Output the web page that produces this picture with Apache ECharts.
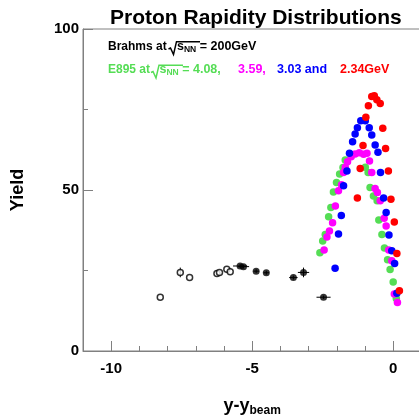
<!DOCTYPE html>
<html><head><meta charset="utf-8">
<script src="https://cdn.jsdelivr.net/npm/echarts@6/dist/echarts.min.js"></script>
<style>html,body{margin:0;padding:0;background:#fff}#c{width:419px;height:417px}</style>
</head><body><div id="c"></div>
<script>
// E895 (colored) data: y - y_beam, yield
const greenX = [-2.60,-2.50,-2.41,-2.29,-2.21,-2.12,-2.01,-1.90,-1.78,-1.70,-0.99,-0.89,-0.82,-0.70,-0.57,-0.51,-0.40,-0.31,-0.20,-0.11,0.00,0.11];
const greenY = [30.5,34.2,36.2,41.7,44.6,49.4,52.3,55.0,57.0,59.3,57.1,55.4,50.8,48.1,46.7,40.7,36.2,32.0,28.3,25.3,21.4,16.3];
const magentaX = [-2.45,-2.35,-2.26,-2.15,-2.05,-1.94,-1.83,-1.76,-1.70,-1.62,-1.49,-1.35,-1.20,-1.05,-0.93,-0.84,-0.76,-0.64,-0.56,-0.46,-0.32,-0.25,-0.16,-0.05,0.04,0.15];
const magentaY = [31.4,35.4,37.3,39.8,45.0,49.8,51.6,55.4,57.1,58.8,60.3,61.2,61.6,61.1,61.4,59.0,55.4,50.5,49.2,46.7,41.2,38.8,31.4,28.0,17.7,15.1];
const blueX = [-2.06,-1.94,-1.84,-1.76,-1.64,-1.55,-1.44,-1.35,-1.27,-1.15,-0.99,-0.85,-0.76,-0.64,-0.54,-0.45,-0.34,-0.25,-0.15,-0.05,0.05,0.13];
const blueY = [25.7,36.3,42.1,51.3,55.9,61.4,65.0,67.4,69.3,71.5,71.5,69.3,67.1,64.0,61.7,55.4,47.5,43.0,36.0,31.1,27.2,17.9];
const redX = [-1.27,-1.17,-1.07,-0.97,-0.88,-0.76,-0.67,-0.58,-0.46,-0.37,-0.27,-0.17,-0.08,0.04,0.13,0.22];
const redY = [47.5,56.7,63.8,72.6,76.2,79.0,79.3,78.0,76.9,69.2,62.9,55.9,47.1,40.1,30.3,18.7];
// BRAHMS measured (filled) and reflected (open)
const brahmsX = [-5.43,-5.31,-4.86,-4.50,-3.54,-3.18,-2.47];
const brahmsY = [26.4,26.2,24.8,24.3,22.8,24.4,16.7];
const brahmsXerr = [0.25,0.2,0.1,0.1,0.15,0.2,0.25];
const brahmsYerr = [0.6,0.6,0.6,0.6,0.6,1.5,0.5];
const reflX = [-8.26,-7.55,-7.22,-6.25,-6.16,-5.90,-5.78];
const reflY = [16.7,24.4,22.8,24.1,24.4,25.4,24.6];
const reflXerr = [0,0,0,0,0,0,0];
const reflYerr = [0,1.5,0,0,0,0,0];
// axis ticks
const xMajor = [-10,-5,0];
const xMinor = [-11,-9,-8,-7,-6,-4,-3,-2,-1,1];

const zip = (a,b) => a.map((v,i)=>[v,b[i]]);
const zip4 = (a,b,c,d) => a.map((v,i)=>[v,b[i],c[i],d[i]]);
const FONT = 'Liberation Sans, Arial, Helvetica, sans-serif';
const AX = '#808080';
const GREEN = '#55dd55';

function errRender(params, api){
  const x = api.value(0), y = api.value(1), xe = api.value(2), ye = api.value(3);
  const children = [];
  const st = {stroke:'#000', lineWidth:1};
  if (xe > 0){
    const a = api.coord([x-xe,y]), b = api.coord([x+xe,y]);
    children.push({type:'line', shape:{x1:a[0],y1:a[1],x2:b[0],y2:b[1]}, style:st});
  }
  if (ye > 0){
    const a = api.coord([x,y-ye]), b = api.coord([x,y+ye]);
    children.push({type:'line', shape:{x1:a[0],y1:a[1],x2:b[0],y2:b[1]}, style:st});
  }
  return {type:'group', children};
}

const chart = echarts.init(document.getElementById('c'), null, {renderer:'canvas'});
const dot = (name, color, xs, ys) => ({
  name, type:'scatter', data: zip(xs,ys), symbol:'circle', symbolSize:7.5,
  itemStyle:{color, opacity:1}, z:3, silent:true
});
function rich(color, fs){
  return {
    n:{fontFamily:FONT, fontWeight:'bold', fontSize:fs || 12.5, fill:color},
    sub:{fontFamily:FONT, fontWeight:'bold', fontSize:8.5, fill:color, verticalAlign:'bottom', padding:[6,0,0,0]}
  };
}
const radical = (pts, color) => ({type:'polyline', shape:{points:pts}, style:{stroke:color, lineWidth:1.5, fill:null}, z:10});
chart.setOption({
  animation:false,
  backgroundColor:'#fff',
  grid:{left:83, top:29, width:338.4, height:322, show:true, borderColor:AX, borderWidth:1,
        backgroundColor:'transparent', containLabel:false, outerBoundsMode:'none'},
  xAxis:[{
    type:'value', min:-11, max:1, position:'bottom',
    axisLine:{show:true, onZero:false, lineStyle:{color:AX, width:1}},
    axisTick:{show:true, inside:true, length:10, customValues:xMajor, lineStyle:{color:AX}},
    axisLabel:{customValues:xMajor, color:'#000', fontFamily:FONT, fontWeight:'bold', fontSize:15, margin:10},
    splitLine:{show:false},
    name:'{a|y-y}{b|beam}', nameLocation:'middle', nameGap:44,
    nameTextStyle:{rich:{a:{fontFamily:FONT, fontWeight:'bold', fontSize:18, color:'#000'}, b:{fontFamily:FONT, fontWeight:'bold', fontSize:12, color:'#000', verticalAlign:'bottom', padding:[10,0,0,0]}}}
  },{
    type:'value', min:-11, max:1, position:'bottom', gridIndex:0,
    axisLine:{show:false, onZero:false},
    axisTick:{show:true, inside:true, length:5, customValues:xMinor, lineStyle:{color:AX}},
    axisLabel:{show:false}, splitLine:{show:false}
  }],
  yAxis:{
    type:'value', min:0, max:100, interval:50,
    axisLine:{show:true, onZero:false, lineStyle:{color:AX, width:1}},
    axisTick:{show:true, inside:true, length:10, lineStyle:{color:AX}},
    minorTick:{show:true, splitNumber:2, length:5, lineStyle:{color:AX}},
    axisLabel:{color:'#000', fontFamily:FONT, fontWeight:'bold', fontSize:15, margin:4},
    splitLine:{show:false}, minorSplitLine:{show:false},
    name:'Yield', nameLocation:'middle', nameGap:56, nameRotate:90,
    nameTextStyle:{fontFamily:FONT, fontWeight:'bold', fontSize:18, color:'#000'}
  },
  title:{text:'Proton Rapidity Distributions', left:105, top:3,
    textStyle:{fontFamily:FONT, fontWeight:'bold', fontSize:21, color:'#000'}},
  graphic:[
    {type:'text', left:108, top:40.5, style:{text:'{n|Brahms at}', rich:rich('#000', 12)}},
    {type:'text', left:177, top:40, style:{text:'{n|s}{sub|NN}{n| = 200GeV}', rich:rich('#000')}},
    radical([[168.5,49],[170.5,48],[173.5,54.5],[176.5,41.7],[200,41.7]], '#000'),
    {type:'text', left:108, top:64, style:{text:'{n|E895 at}', rich:rich(GREEN, 12)}},
    {type:'text', left:159.5, top:63.5, style:{text:'{n|s}{sub|NN}{n| = 4.08,}', rich:rich(GREEN)}},
    radical([[151,72.5],[153,71.5],[156,78],[159,65.2],[183,65.2]], GREEN),
    {type:'text', left:238, top:63.5, style:{text:'{n|3.59,}', rich:rich('#ff00ff')}},
    {type:'text', left:277, top:63.5, style:{text:'{n|3.03 and}', rich:rich('#0000ff')}},
    {type:'text', left:340, top:63.5, style:{text:'{n|2.34GeV}', rich:rich('#ff0000')}}
  ],
  series:[
    dot('green',GREEN,greenX,greenY),
    dot('magenta','#ff00ff',magentaX,magentaY),
    dot('blue','#0000ff',blueX,blueY),
    dot('red','#ff0000',redX,redY),
    {type:'custom', renderItem:errRender, data:zip4(brahmsX,brahmsY,brahmsXerr,brahmsYerr), z:4, silent:true},
    {type:'custom', renderItem:errRender, data:zip4(reflX,reflY,reflXerr,reflYerr), z:4, silent:true},
    {type:'scatter', data:zip(brahmsX,brahmsY), symbol:'circle', symbolSize:7, itemStyle:{color:'#000'}, z:5, silent:true},
    {type:'scatter', data:zip(reflX,reflY), symbol:'circle', symbolSize:6, itemStyle:{color:'#fff', borderColor:'#000', borderWidth:1.5}, z:5, silent:true}
  ]
});
</script></body></html>
